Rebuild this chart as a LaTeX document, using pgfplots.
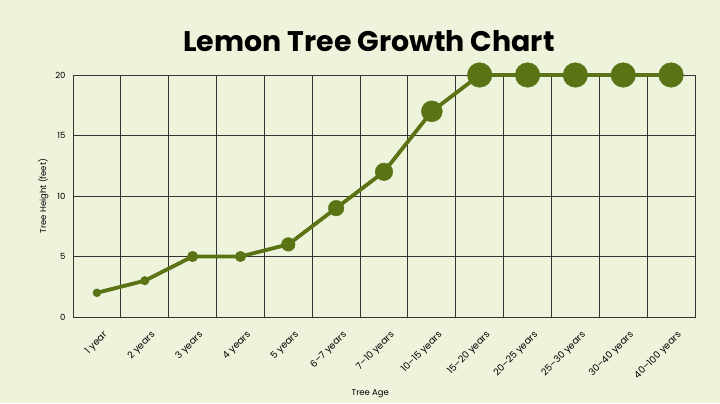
\documentclass[border=0pt]{standalone}
\usepackage{pgfplots}
\pgfplotsset{compat=1.18}
\usepackage{pgfplotstable}
\usepackage{fontspec}
\setmainfont{Poppins}
\definecolor{bgc}{HTML}{EEF3DC}
\definecolor{olive}{HTML}{5A7314}
\definecolor{gridc}{HTML}{333333}
\pgfplotstableread{
x y r
0 2 4
1 3 4.3
2 5 5.3
3 5 5.3
4 6 6.8
5 9 7.8
6 12 8.8
7 17 10.5
8 20 12.3
9 20 12.3
10 20 12.3
11 20 12.3
12 20 12.3
}\datatab
\begin{document}
\begin{tikzpicture}[x=1bp,y=1bp]
\fill[bgc] (0,0) rectangle (720,403);
\node[font=\bfseries\fontsize{28.5}{30}\selectfont] at (369,362) {Lemon Tree Growth Chart};
\begin{axis}[
  at={(73bp,86bp)}, anchor=south west,
  scale only axis, width=622bp, height=242bp,
  xmin=-0.5, xmax=12.5, ymin=0, ymax=20,
  xtick={0,...,12},
  xticklabels={1 year,2 years,3 years,4 years,5 years,6--7 years,7--10 years,10--15 years,15--20 years,20--25 years,25--30 years,30--40 years,40--100 years},
  minor xtick={0.5,1.5,...,11.5},
  ytick={0,5,10,15,20},
  xmajorgrids=false, xminorgrids=true, ymajorgrids=true,
  grid style={gridc, line width=0.9pt},
  minor grid style={gridc, line width=0.9pt},
  axis line style={gridc, line width=0.9pt},
  major tick length=0pt, minor tick length=0pt,
  tick label style={font=\fontsize{8.5}{9}\selectfont, black},
  /pgf/number format/assume math mode=true,
  x tick label style={font=\fontsize{9.5}{10}\selectfont, rotate=45, anchor=north east, yshift=-10bp, xshift=-2bp},
  yticklabel style={xshift=-4bp},
  xlabel={Tree Age}, ylabel={Tree Height (feet)},
  label style={font=\fontsize{8.5}{9}\selectfont},
  xlabel style={at={(axis description cs:0.478,0)}, anchor=center, yshift=-77bp},
  ylabel style={at={(axis description cs:0,0.5)}, rotate=0, anchor=south, yshift=21bp},
  axis background/.style={fill=bgc},
  clip=false,
]
\addplot[olive, line width=3.8bp, mark=none] table[x=x,y=y]{\datatab};
\addplot[scatter, only marks, mark=*,
  scatter/use mapped color={draw=olive, fill=olive},
  visualization depends on={\thisrow{r} \as \rad},
  scatter/@pre marker code/.append style={/tikz/mark size=\rad bp},
] table[x=x,y=y]{\datatab};
\end{axis}
\end{tikzpicture}
\end{document}
